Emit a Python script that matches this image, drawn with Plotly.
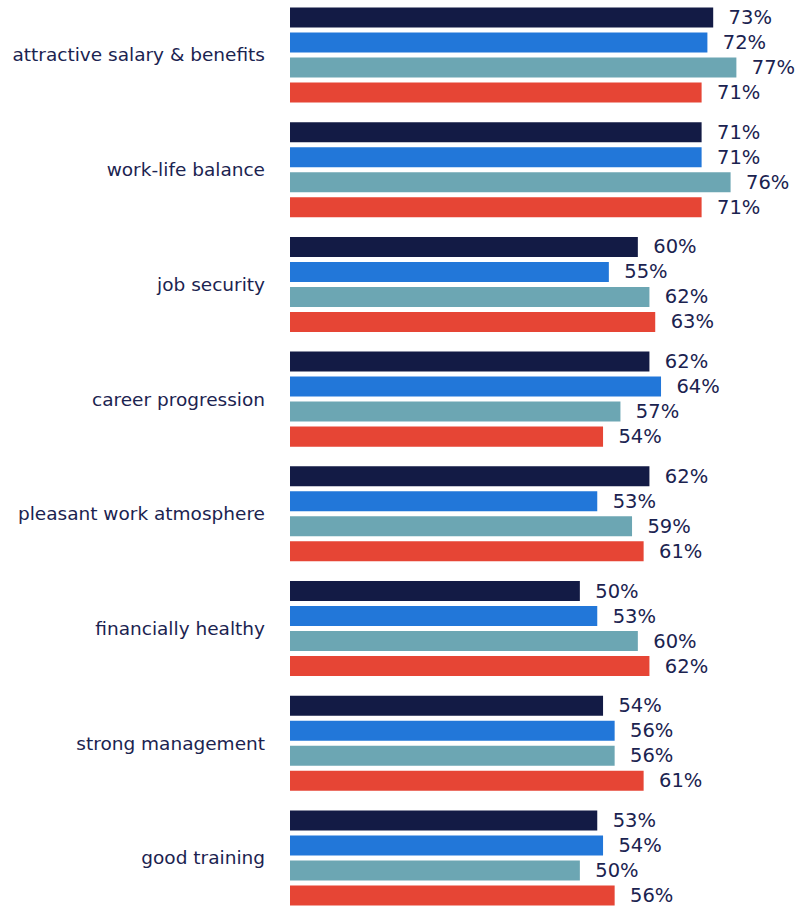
import plotly.graph_objects as go

categories = [
    "attractive salary & benefits",
    "work-life balance",
    "job security",
    "career progression",
    "pleasant work atmosphere",
    "financially healthy",
    "strong management",
    "good training",
]
series_names = ["Series 1", "Series 2", "Series 3", "Series 4"]
series_1 = [73, 71, 60, 62, 62, 50, 54, 53]
series_2 = [72, 71, 55, 64, 53, 53, 56, 54]
series_3 = [77, 76, 62, 57, 59, 60, 56, 50]
series_4 = [71, 71, 63, 54, 61, 62, 61, 56]
colors = ["#131b45", "#2277d9", "#6ca6b3", "#e64535"]

TEXT_COLOR = "#1b2350"
FONT = "DejaVu Sans"

fig = go.Figure()
for name, vals, col in zip(series_names, [series_1, series_2, series_3, series_4], colors):
    fig.add_trace(go.Bar(
        y=categories,
        x=vals,
        orientation="h",
        name=name,
        marker=dict(color=col, line=dict(width=0)),
        text=[f"\u00a0\u00a0{v}%" for v in vals],
        textposition="outside",
        constraintext="none",
        cliponaxis=False,
        textfont=dict(family=FONT, size=19.5, color=TEXT_COLOR),
        hoverinfo="skip",
    ))

fig.update_layout(
    width=799,
    height=906,
    margin=dict(l=290, r=0, t=0, b=0, pad=0),
    barmode="group",
    bargap=0.128,
    bargroupgap=0.2,
    showlegend=False,
    plot_bgcolor="white",
    paper_bgcolor="white",
    font=dict(family=FONT, color=TEXT_COLOR),
    uniformtext=dict(mode=False),
)
fig.update_xaxes(
    range=[0, 87.8],
    visible=False,
    showgrid=False,
    zeroline=False,
)
fig.update_yaxes(
    type="category",
    categoryorder="array",
    categoryarray=categories,
    range=[7.419, -0.4795],
    showgrid=False,
    zeroline=False,
    showline=False,
    ticks="",
    ticklabelstandoff=24,
    tickfont=dict(family=FONT, size=18.5, color=TEXT_COLOR),
)

fig.write_html("out.html")
